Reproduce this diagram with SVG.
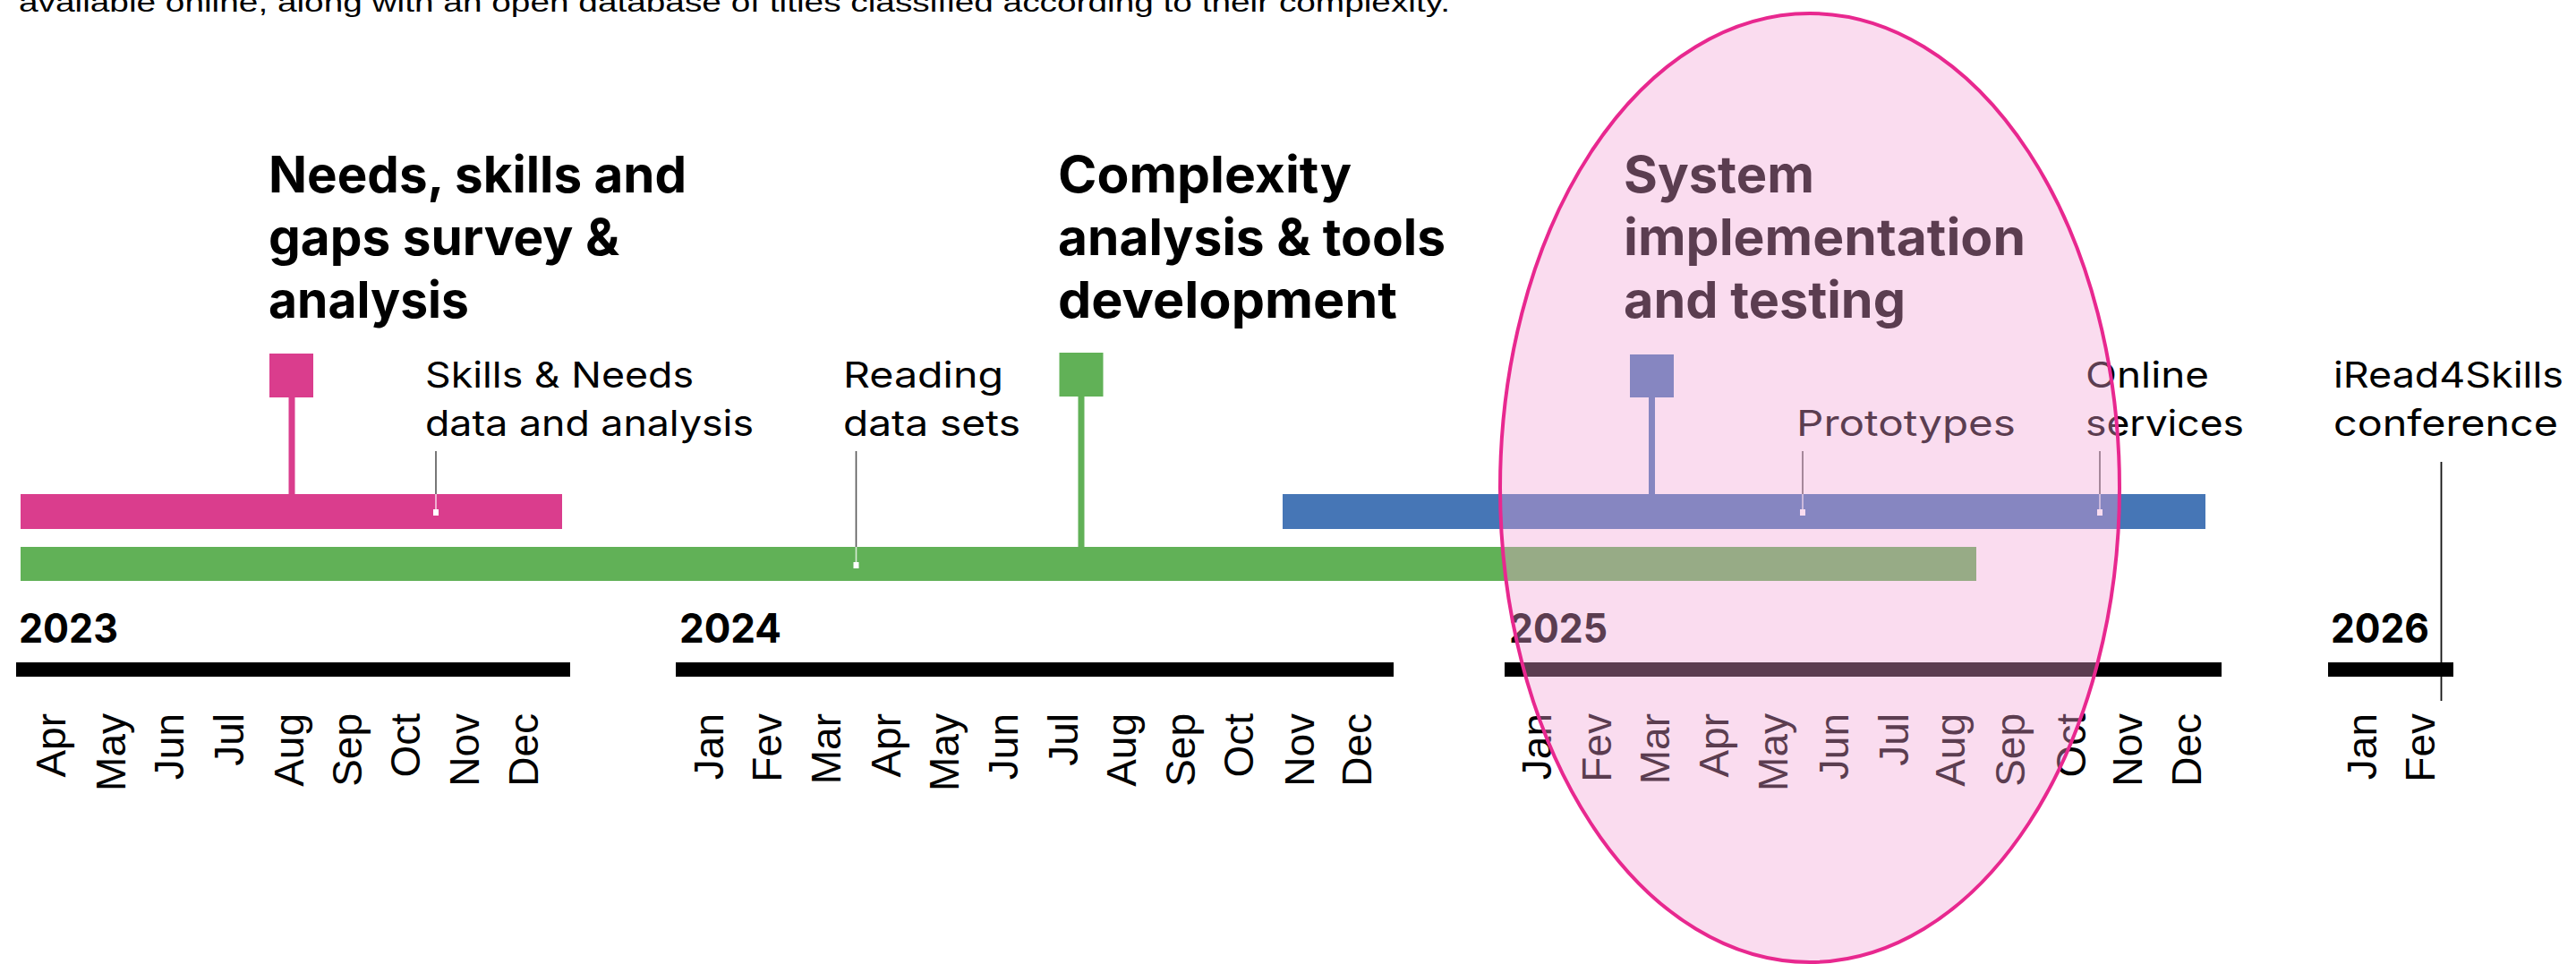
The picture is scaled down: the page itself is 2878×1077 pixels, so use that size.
<svg xmlns="http://www.w3.org/2000/svg" width="2878" height="1077" viewBox="0 0 2878 1077">
<style>
.h{font-family:Inter,"Liberation Sans",sans-serif;font-weight:700;font-size:56px;fill:#000}
.lbl{font-family:Inter,"Liberation Sans",sans-serif;font-weight:400;font-size:40px;fill:#000}
.yr{font-family:Inter,"Liberation Sans",sans-serif;font-weight:700;font-size:45px;fill:#000}
.mo{font-family:"Liberation Sans",Arial,sans-serif;font-size:46px;fill:#000;text-anchor:end}
.top{font-family:"Liberation Sans",Arial,sans-serif;font-size:30px;fill:#000}
.lead{stroke:#555;stroke-width:1.6;fill:none}
.leadw{stroke:#fff;stroke-opacity:0.75;stroke-width:1.6;fill:none}
.dot{fill:#fff}
.ybar{fill:#000}
</style>
<rect width="2878" height="1077" fill="#fff"/>
<text class="top" x="21" y="13" textLength="1599" lengthAdjust="spacingAndGlyphs">available online, along with an open database of titles classified according to their complexity.</text>

<g id="phase-needs">
<text class="h" x="300" y="215" textLength="467" lengthAdjust="spacingAndGlyphs">Needs, skills and</text>
<text class="h" x="300" y="285" textLength="392" lengthAdjust="spacingAndGlyphs">gaps survey &amp;</text>
<text class="h" x="300" y="355" textLength="224" lengthAdjust="spacingAndGlyphs">analysis</text>
<rect x="301" y="395" width="49" height="49" fill="#da3d8d"/>
<rect x="322.5" y="443" width="7" height="110" fill="#da3d8d"/>
<rect x="23" y="552" width="605" height="39" fill="#da3d8d"/>
</g>

<g id="phase-complexity">
<text class="h" x="1182" y="215" textLength="328" lengthAdjust="spacingAndGlyphs">Complexity</text>
<text class="h" x="1182" y="285" textLength="433" lengthAdjust="spacingAndGlyphs">analysis &amp; tools</text>
<text class="h" x="1182" y="355" textLength="379" lengthAdjust="spacingAndGlyphs">development</text>
<rect x="1183.5" y="394" width="49" height="49" fill="#61b157"/>
<rect x="1204.5" y="442" width="7" height="170" fill="#61b157"/>
<rect x="23" y="611" width="2185" height="38" fill="#61b157"/>
</g>

<g id="phase-system">
<text class="h" x="1814" y="215" textLength="213" lengthAdjust="spacingAndGlyphs">System</text>
<text class="h" x="1814" y="285" textLength="449" lengthAdjust="spacingAndGlyphs">implementation</text>
<text class="h" x="1814" y="355" textLength="315" lengthAdjust="spacingAndGlyphs">and testing</text>
<rect x="1821" y="396" width="49" height="48" fill="#4676b6"/>
<rect x="1842" y="443" width="7" height="110" fill="#4676b6"/>
<rect x="1433" y="552" width="1031" height="39" fill="#4676b6"/>
</g>

<g id="labels">
<text class="lbl" x="475" y="433" textLength="300" lengthAdjust="spacingAndGlyphs">Skills &amp; Needs</text>
<text class="lbl" x="475" y="487" textLength="367" lengthAdjust="spacingAndGlyphs">data and analysis</text>
<text class="lbl" x="942" y="433" textLength="179" lengthAdjust="spacingAndGlyphs">Reading</text>
<text class="lbl" x="942" y="487" textLength="198" lengthAdjust="spacingAndGlyphs">data sets</text>
<text class="lbl" x="2007" y="487" textLength="245" lengthAdjust="spacingAndGlyphs">Prototypes</text>
<text class="lbl" x="2330" y="433" textLength="138" lengthAdjust="spacingAndGlyphs">Online</text>
<text class="lbl" x="2330" y="487" textLength="177" lengthAdjust="spacingAndGlyphs">services</text>
<text class="lbl" x="2607" y="433" textLength="257" lengthAdjust="spacingAndGlyphs">iRead4Skills</text>
<text class="lbl" x="2607" y="487" textLength="251" lengthAdjust="spacingAndGlyphs">conference</text>
</g>

<g id="connectors">
<line class="lead" x1="487" y1="504" x2="487" y2="552"/>
<line class="leadw" x1="487" y1="552" x2="487" y2="570"/>
<rect class="dot" x="484" y="569" width="6" height="7"/>
<line class="lead" x1="956.5" y1="504" x2="956.5" y2="611"/>
<line class="leadw" x1="956.5" y1="611" x2="956.5" y2="629"/>
<rect class="dot" x="953.5" y="628" width="6" height="7"/>
<line class="lead" x1="2014" y1="504" x2="2014" y2="552"/>
<line class="leadw" x1="2014" y1="552" x2="2014" y2="570"/>
<rect class="dot" x="2011" y="569" width="6" height="7"/>
<line class="lead" x1="2346" y1="504" x2="2346" y2="552"/>
<line class="leadw" x1="2346" y1="552" x2="2346" y2="570"/>
<rect class="dot" x="2343" y="569" width="6" height="7"/>
<line stroke="#111" stroke-width="1.8" x1="2727.5" y1="516" x2="2727.5" y2="783"/>
</g>

<g id="year-2023">
<text class="yr" x="21" y="718" textLength="111" lengthAdjust="spacingAndGlyphs">2023</text>
<rect class="ybar" x="18" y="740" width="619" height="16"/>
<text class="mo" transform="translate(73,797) rotate(-90)">Apr</text>
<text class="mo" transform="translate(140,797) rotate(-90)">May</text>
<text class="mo" transform="translate(205,797) rotate(-90)">Jun</text>
<text class="mo" transform="translate(272,797) rotate(-90)">Jul</text>
<text class="mo" transform="translate(339,797) rotate(-90)">Aug</text>
<text class="mo" transform="translate(404,797) rotate(-90)">Sep</text>
<text class="mo" transform="translate(469,797) rotate(-90)">Oct</text>
<text class="mo" transform="translate(535,797) rotate(-90)">Nov</text>
<text class="mo" transform="translate(601,797) rotate(-90)">Dec</text>
</g>

<g id="year-2024">
<text class="yr" x="759" y="718" textLength="114" lengthAdjust="spacingAndGlyphs">2024</text>
<rect class="ybar" x="755" y="740" width="802" height="16"/>
<text class="mo" transform="translate(808,797) rotate(-90)">Jan</text>
<text class="mo" transform="translate(873,797) rotate(-90)">Fev</text>
<text class="mo" transform="translate(939,797) rotate(-90)">Mar</text>
<text class="mo" transform="translate(1006,797) rotate(-90)">Apr</text>
<text class="mo" transform="translate(1071,797) rotate(-90)">May</text>
<text class="mo" transform="translate(1137,797) rotate(-90)">Jun</text>
<text class="mo" transform="translate(1204,797) rotate(-90)">Jul</text>
<text class="mo" transform="translate(1269,797) rotate(-90)">Aug</text>
<text class="mo" transform="translate(1335,797) rotate(-90)">Sep</text>
<text class="mo" transform="translate(1400,797) rotate(-90)">Oct</text>
<text class="mo" transform="translate(1468,797) rotate(-90)">Nov</text>
<text class="mo" transform="translate(1532,797) rotate(-90)">Dec</text>
</g>

<g id="year-2025">
<text class="yr" x="1686" y="718" textLength="110" lengthAdjust="spacingAndGlyphs">2025</text>
<rect class="ybar" x="1681" y="740" width="801" height="16"/>
<text class="mo" transform="translate(1733,797) rotate(-90)">Jan</text>
<text class="mo" transform="translate(1800,797) rotate(-90)">Fev</text>
<text class="mo" transform="translate(1865,797) rotate(-90)">Mar</text>
<text class="mo" transform="translate(1931,797) rotate(-90)">Apr</text>
<text class="mo" transform="translate(1997,797) rotate(-90)">May</text>
<text class="mo" transform="translate(2065,797) rotate(-90)">Jun</text>
<text class="mo" transform="translate(2132,797) rotate(-90)">Jul</text>
<text class="mo" transform="translate(2195,797) rotate(-90)">Aug</text>
<text class="mo" transform="translate(2262,797) rotate(-90)">Sep</text>
<text class="mo" transform="translate(2330,797) rotate(-90)">Oct</text>
<text class="mo" transform="translate(2393,797) rotate(-90)">Nov</text>
<text class="mo" transform="translate(2459,797) rotate(-90)">Dec</text>
</g>

<g id="year-2026">
<text class="yr" x="2604" y="718" textLength="110" lengthAdjust="spacingAndGlyphs">2026</text>
<rect class="ybar" x="2601" y="740" width="140" height="16"/>
<text class="mo" transform="translate(2655,797) rotate(-90)">Jan</text>
<text class="mo" transform="translate(2720,797) rotate(-90)">Fev</text>
</g>

<g id="highlight">
<ellipse cx="2022" cy="545" rx="346" ry="530" fill="#f3a3d5" fill-opacity="0.375" stroke="#e8288f" stroke-width="4"/>
</g>
</svg>
